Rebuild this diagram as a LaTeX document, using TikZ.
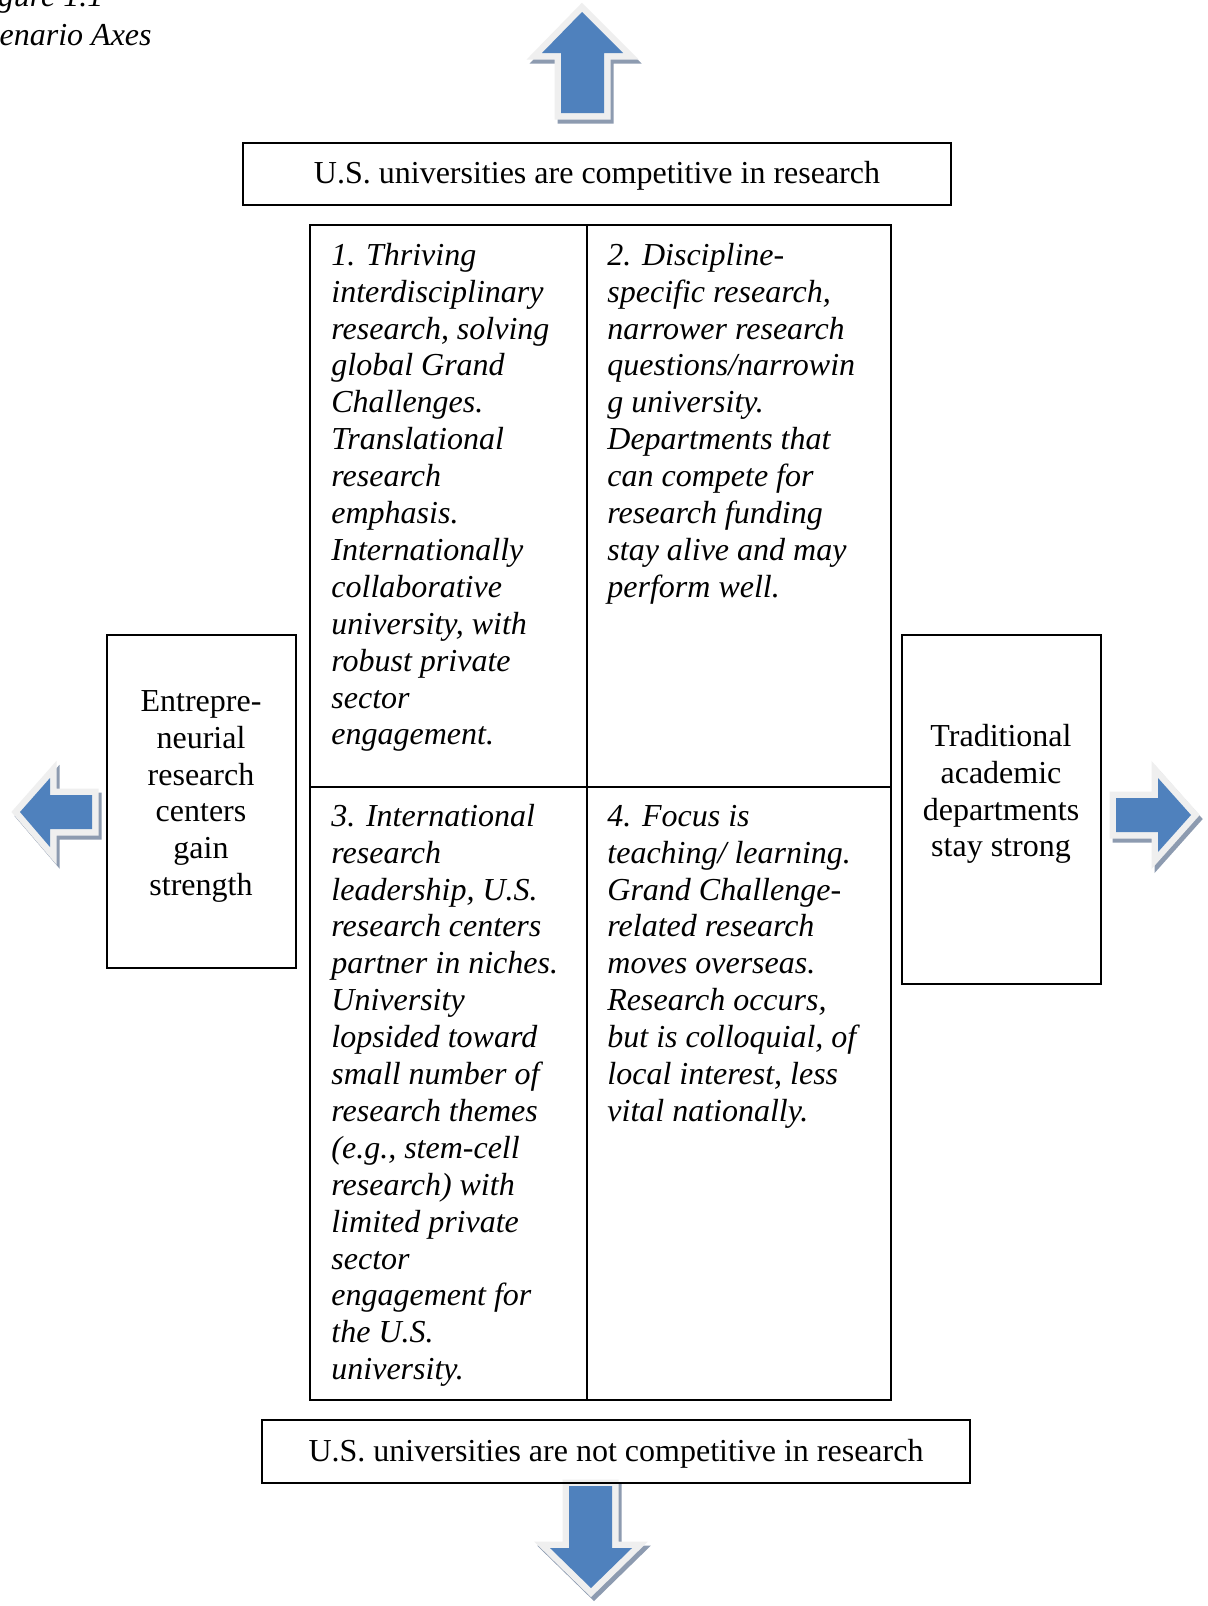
\documentclass[tikz,border=0pt]{standalone}
\usepackage{fontspec}
\setmainfont{Liberation Serif}
\usetikzlibrary{calc}
\definecolor{arrblue}{HTML}{4F81BD}
\definecolor{arrrim}{HTML}{EFEFEF}
\definecolor{arrshade}{HTML}{8D9BB0}
\begin{document}
\begin{tikzpicture}[x=0.5pt,y=-0.5pt,
  font=\fontsize{16}{18.45}\selectfont,
  box/.style={draw, line width=1pt},
  celltext/.style={anchor=north west, inner sep=0pt, align=left, font=\fontsize{16}{18.45}\selectfont\itshape},
  sidetext/.style={anchor=north, inner sep=0pt, align=center},
  rim/.style={fill=arrrim, draw=arrrim, line width=6.5pt, line join=miter},
  shade/.style={fill=arrshade, draw=arrshade, line width=6.5pt, line join=miter, shift={(3,4)}},
  bluefill/.style={fill=arrblue}]
\useasboundingbox (0,0) rectangle (1208,1606);
\clip (0,0) rectangle (1208,1606);
\fill[white] (0,0) rectangle (1208,1606);

% title
\node[anchor=base east, inner sep=0pt, font=\fontsize{16}{18.45}\selectfont\itshape] (title2) at (152,46) {Scenario Axes};
\node[anchor=base west, inner sep=0pt, font=\fontsize{16}{18.45}\selectfont\itshape] (title1) at ($(title2.base west)+(0,-40)$) {Figure 1.1};

% arrows: up
\filldraw[shade] (582,12) -- (623,53) -- (604,53) -- (604,113) -- (561,113) -- (561,53) -- (542,53) -- cycle;
\filldraw[rim] (582,12) -- (623,53) -- (604,53) -- (604,113) -- (561,113) -- (561,53) -- (542,53) -- cycle;
\fill[bluefill] (582,12) -- (623,53) -- (604,53) -- (604,113) -- (561,113) -- (561,53) -- (542,53) -- cycle;
% down
\filldraw[shade] (569,1486) -- (612,1486) -- (612,1548) -- (632,1548) -- (591,1588) -- (550,1548) -- (569,1548) -- cycle;
\filldraw[rim] (569,1486) -- (612,1486) -- (612,1548) -- (632,1548) -- (591,1588) -- (550,1548) -- (569,1548) -- cycle;
\fill[bluefill] (569,1486) -- (612,1486) -- (612,1548) -- (632,1548) -- (591,1588) -- (550,1548) -- (569,1548) -- cycle;
% left
\filldraw[shade] (20,812) -- (50,778) -- (50,795) -- (92,795) -- (92,829) -- (50,829) -- (50,847) -- cycle;
\filldraw[rim] (20,812) -- (50,778) -- (50,795) -- (92,795) -- (92,829) -- (50,829) -- (50,847) -- cycle;
\fill[bluefill] (20,812) -- (50,778) -- (50,795) -- (92,795) -- (92,829) -- (50,829) -- (50,847) -- cycle;
% right
\filldraw[shade] (1116,798) -- (1158,798) -- (1158,778) -- (1191,815) -- (1158,852) -- (1158,832) -- (1116,832) -- cycle;
\filldraw[rim] (1116,798) -- (1158,798) -- (1158,778) -- (1191,815) -- (1158,852) -- (1158,832) -- (1116,832) -- cycle;
\fill[bluefill] (1116,798) -- (1158,798) -- (1158,778) -- (1191,815) -- (1158,852) -- (1158,832) -- (1116,832) -- cycle;

% top and bottom boxes
\draw[box] (243,143) rectangle (951,205);
\node[anchor=base, inner sep=0pt] (toptext) at (597,183) {U.S. universities are competitive in research};
\draw[box] (262,1420) rectangle (970,1483);
\node[anchor=base, inner sep=0pt] (bottext) at (616,1461) {U.S. universities are not competitive in research};

% side boxes
\draw[box] (107,635) rectangle (296,968);
\node[sidetext] (lefttext) at (201,685) {\strut Entrepre-\\neurial\\research\\centers\\gain\\strength};
\draw[box] (902,635) rectangle (1101,984);
\node[sidetext] (righttext) at (1001,720) {\strut Traditional\\academic\\departments\\stay strong};

% grid
\draw[box] (310,225) rectangle (891,1400);
\draw[box] (587,225) -- (587,1400);
\draw[box] (310,787) -- (891,787);

\node[celltext] (c1) at (331,239) {\strut 1. Thriving\\interdisciplinary\\research, solving\\global Grand\\Challenges.\\Translational\\research\\emphasis.\\Internationally\\collaborative\\university, with\\robust private\\sector\\engagement.};
\node[celltext] (c2) at (607,239) {\strut 2. Discipline-\\specific research,\\narrower research\\questions/narrowin\\g university.\\Departments that\\can compete for\\research funding\\stay alive and may\\perform well.};
\node[celltext] (c3) at (331,800) {\strut 3. International\\research\\leadership, U.S.\\research centers\\partner in niches.\\University\\lopsided toward\\small number of\\research themes\\(e.g., stem-cell\\research) with\\limited private\\sector\\engagement for\\the U.S.\\university.};
\node[celltext] (c4) at (607,800) {\strut 4. Focus is\\teaching/ learning.\\Grand Challenge-\\related research\\moves overseas.\\Research occurs,\\but is colloquial, of\\local interest, less\\vital nationally.};
\end{tikzpicture}
\end{document}
